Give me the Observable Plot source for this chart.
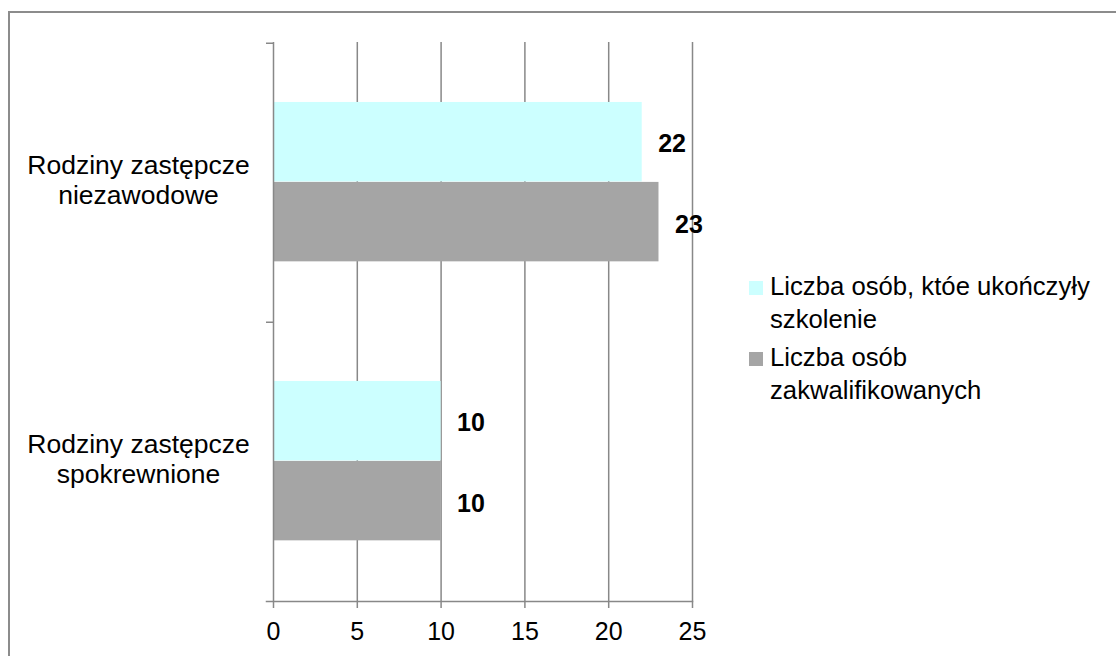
<!DOCTYPE html>
<html>
<head>
<meta charset="utf-8">
<script src="https://cdn.jsdelivr.net/npm/d3@7"></script>
<script src="https://cdn.jsdelivr.net/npm/@observablehq/plot@0.6"></script>
<style>
  html, body { margin: 0; padding: 0; background: #fff; overflow: hidden; }
  body { width: 1116px; height: 656px; position: relative; font-family: "Liberation Sans", Arial, sans-serif; }
  #border { position: absolute; left: 8px; top: 11px; width: 1200px; height: 800px; border-left: 2px solid #8c8c8c; border-top: 2px solid #8c8c8c; box-sizing: border-box; }
  #chart { position: absolute; left: 0; top: 0; }
  #legend { position: absolute; left: 749px; top: 270px; font-size: 25.7px; color: #000; line-height: 33px; }
  .item { display: flex; align-items: flex-start; margin-bottom: 5px; }
  .sw { width: 14px; height: 14px; margin-top: 11px; margin-right: 7px; flex: none; }
</style>
</head>
<body>
<div id="border"></div>
<div id="chart"></div>
<div id="legend"></div>
<script>
const categories = ["Rodziny zastępcze niezawodowe", "Rodziny zastępcze spokrewnione"];
const categoryLabels = ["Rodziny zastępcze\nniezawodowe", "Rodziny zastępcze\nspokrewnione"];
const seriesNames = ["Liczba osób, któe ukończyły szkolenie", "Liczba osób zakwalifikowanych"];
const seriesLegend = [["Liczba osób, któe ukończyły", "szkolenie"], ["Liczba osób", "zakwalifikowanych"]];
const seriesColors = ["#ccffff", "#a5a5a5"];
const trained = [22, 10];
const qualified = [23, 10];
const xTicks = [0, 5, 10, 15, 20, 25];

const W = 1116, H = 656;
const mT = 42, mB = 55, mL = 273, mR = 424;
const bandH = (H - mT - mB) / categories.length;

const rowsA = categories.map((c, i) => ({category: c, value: trained[i]}));
const rowsB = categories.map((c, i) => ({category: c, value: qualified[i]}));
const labelRows = categories.map((c, i) => ({category: c, label: categoryLabels[i]}));

const gridColor = "#888888";
const font = "Liberation Sans, Arial, sans-serif";

const plot = Plot.plot({
  width: W, height: H,
  marginTop: mT, marginBottom: mB, marginLeft: mL, marginRight: mR,
  style: {fontFamily: font, fontSize: "25px", color: "#000", background: "transparent"},
  x: {domain: [0, 25]},
  y: {domain: categories, padding: 0, label: null},
  marks: [
    Plot.gridX(xTicks.slice(1), {stroke: gridColor, strokeOpacity: 1, strokeWidth: 1.5}),
    Plot.barX(rowsA, {x: "value", y: "category", fill: seriesColors[0], insetTop: bandH * 0.211, insetBottom: bandH * 0.503}),
    Plot.barX(rowsB, {x: "value", y: "category", fill: seriesColors[1], insetTop: bandH * 0.497, insetBottom: bandH * 0.217}),
    Plot.text(rowsA, {x: "value", y: "category", text: d => String(d.value), textAnchor: "start", dx: 16, dy: -bandH * 0.139, fontWeight: "bold", fontSize: 25, fill: "#000"}),
    Plot.text(rowsB, {x: "value", y: "category", text: d => String(d.value), textAnchor: "start", dx: 16, dy: bandH * 0.150, fontWeight: "bold", fontSize: 25, fill: "#000"}),
    Plot.ruleX([0], {stroke: gridColor, strokeWidth: 1.5}),
    Plot.frame({anchor: "bottom", stroke: gridColor, strokeWidth: 1.5, insetLeft: -7}),
    Plot.axisY({tickSize: 7, dy: -bandH / 2, text: null, label: null, stroke: gridColor, strokeWidth: 1.5, strokeOpacity: 1}),
    Plot.axisX({ticks: xTicks, tickSize: 7, tickPadding: 14, stroke: gridColor, strokeWidth: 1.5, strokeOpacity: 1, fontSize: 25, fill: "#000", label: null}),
    Plot.text(labelRows, {x: () => 0, y: "category", text: "label", textAnchor: "middle", dx: -135, dy: -3.5, fontSize: 26.5, lineHeight: 1.15, fill: "#000"})
  ]
});
document.getElementById("chart").appendChild(plot);

const legend = document.getElementById("legend");
seriesNames.forEach((name, i) => {
  const item = document.createElement("div");
  item.className = "item";
  const sw = document.createElement("div");
  sw.className = "sw";
  sw.style.background = seriesColors[i];
  const txt = document.createElement("div");
  txt.innerHTML = seriesLegend[i].join("<br>");
  item.title = name;
  item.appendChild(sw);
  item.appendChild(txt);
  legend.appendChild(item);
});
</script>
</body>
</html>
